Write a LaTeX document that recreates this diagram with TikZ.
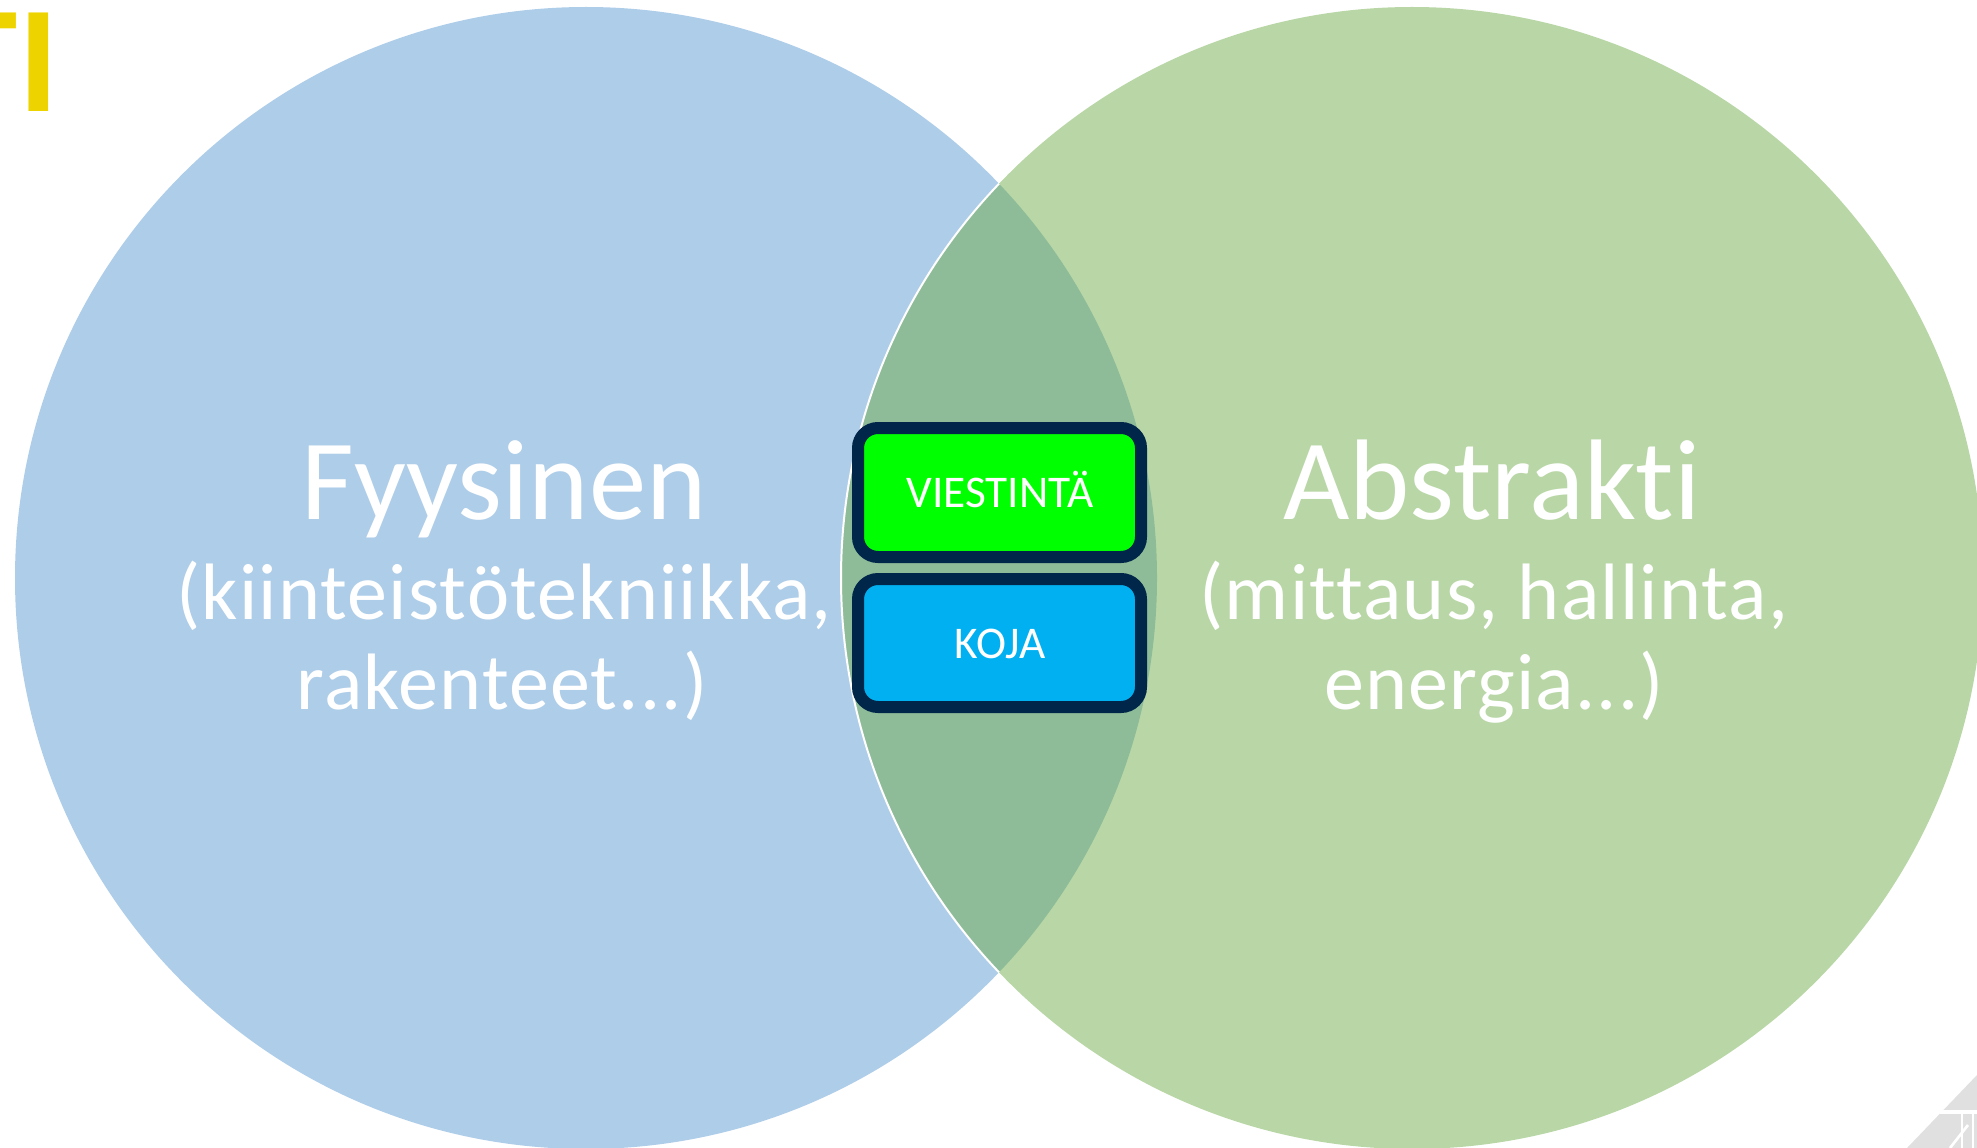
\documentclass[tikz,border=0pt]{standalone}
\usepackage{fontspec}
\setmainfont{Carlito}[Ligatures=NoCommon]
\definecolor{cblue}{RGB}{174,205,233}
\definecolor{cgreen}{RGB}{185,215,166}
\definecolor{coverlap}{RGB}{143,188,152}
\definecolor{boxgreen}{RGB}{0,255,0}
\definecolor{boxblue}{RGB}{0,176,240}
\definecolor{boxborder}{RGB}{0,38,74}
\definecolor{tyellow}{RGB}{237,212,0}
\definecolor{logogrey}{RGB}{224,224,224}
\begin{document}
\begin{tikzpicture}[x=0.75pt,y=-0.75pt,
  bigtxt/.style={text=white,font=\fontsize{86}{100}\selectfont,inner sep=0pt,anchor=base},
  subtxt/.style={text=white,font=\fontsize{60}{68}\selectfont,inner sep=0pt,anchor=base},
  boxtxt/.style={text=white,font=\fontsize{34}{40}\selectfont,inner sep=0pt,anchor=base},
  tagbox/.style={draw=boxborder,line width=9pt,rounded corners=15pt}]
\useasboundingbox (0,0) rectangle (1977,1148);
\clip (0,0) rectangle (1977,1148);
% circles
\coordinate (cl) at (586,578);
\coordinate (cr) at (1412,578);
\fill[cblue] (cl) circle[radius=428.25pt];
\fill[cgreen] (cr) circle[radius=428.25pt];
\begin{scope}
  \clip (cl) circle[radius=428.25pt];
  \fill[coverlap] (cr) circle[radius=428.25pt];
  \draw[white,line width=1.5pt] (cr) circle[radius=428.25pt];
\end{scope}
% yellow title fragment
\node[text=tyellow,font=\bfseries\fontsize{114}{120}\selectfont,inner sep=0pt,anchor=base east] (title) at (59,112) {TI};
% texts
\node[bigtxt] (fyy) at (504,519) {Fyysinen};
\node[subtxt] (fyy1) at (504,619) {\addfontfeatures{LetterSpace=1.5}(kiinteistötekniikka,};
\node[subtxt] (fyy2) at (502,709) {\addfontfeatures{LetterSpace=1.5}rakenteet...)};
\node[bigtxt] (abs) at (1492,519) {Abstrakti};
\node[subtxt] (abs1) at (1494,619) {\addfontfeatures{LetterSpace=1.5}(mittaus, hallinta,};
\node[subtxt] (abs2) at (1494,709) {\addfontfeatures{LetterSpace=1.5}energia...)};
% boxes
\filldraw[tagbox,fill=boxgreen] (858,428) rectangle (1141,557);
\filldraw[tagbox,fill=boxblue] (858,579) rectangle (1141,707);
\node[boxtxt] (viest) at (1000,507) {VIESTINTÄ};
\node[boxtxt] (koja) at (1000,658) {KOJA};
% logo fragment
\fill[logogrey] (1977,1075) -- (1977,1148) -- (1907,1148) -- cycle;
\draw[white,line width=2.5pt] (1940,1112) -- (1977,1112);
\draw[white,line width=2pt] (1962,1112) -- (1962,1148);
\draw[white,line width=2pt] (1973,1112) -- (1973,1148);
\draw[white,line width=2pt] (1950,1148) -- (1968,1125);
\end{tikzpicture}
\end{document}
